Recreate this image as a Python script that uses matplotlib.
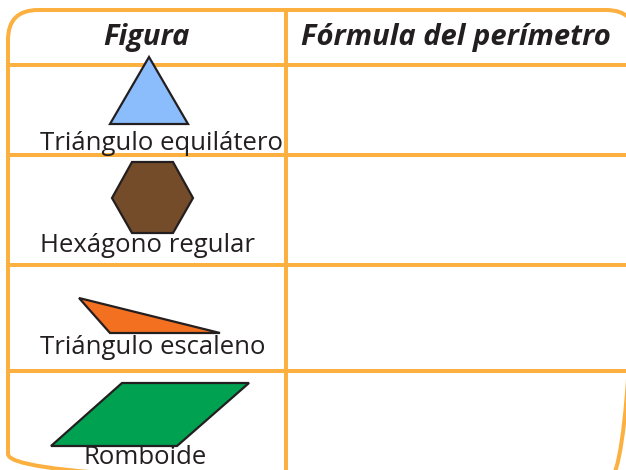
import matplotlib
matplotlib.use("Agg")
import matplotlib.pyplot as plt
from matplotlib.patches import FancyBboxPatch, Polygon

# Données du tableau
encabezados = ["Figura", "Fórmula del perímetro"]
nombres = ["Triángulo equilátero", "Hexágono regular", "Triángulo escaleno", "Romboide"]
colores = ["#8BBDFC", "#754C29", "#F37021", "#00A151"]

# Sommets de chaque figure (en pixels de l'image)
triangulo_eq = [(149, 57), (110, 124), (188, 124)]
hexagono = [(112, 198), (132, 162), (173, 162), (193, 198), (173, 233), (132, 233)]
triangulo_esc = [(79, 298), (110, 333), (220, 333)]
romboide = [(122, 383), (249, 383), (177, 446), (51, 446)]
figuras = [triangulo_eq, hexagono, triangulo_esc, romboide]

# Position des étiquettes
x_etiquetas = [40, 40, 40, 83]
y_etiquetas = [143, 246, 348, 458]

# Grille du tableau
lineas_h = [65, 155, 265, 371]
linea_v = 286
naranja = "#FBB040"
texto = "#231F20"

fig = plt.figure(figsize=(6.26, 4.70), dpi=100)
ax = fig.add_axes([0, 0, 1, 1])
ax.set_xlim(0, 626)
ax.set_ylim(470, 0)
ax.axis("off")

lw = 4 * 72 / 100

# Cadre arrondi (dépasse à droite et en bas)
cadre = FancyBboxPatch((8, 10), 628, 474,
                       boxstyle="round,pad=0,rounding_size=30",
                       fill=False, edgecolor=naranja, linewidth=lw)
ax.add_patch(cadre)

for y in lineas_h:
    ax.plot([8, 636], [y, y], color=naranja, linewidth=lw, solid_capstyle="butt")
ax.plot([linea_v, linea_v], [10, 484], color=naranja, linewidth=lw, solid_capstyle="butt")

# En-têtes
ax.text(146, 38, encabezados[0], ha="center", va="center", fontsize=21,
        fontweight="bold", fontstyle="italic", color=texto, family="Open Sans")
ax.text(456, 38, encabezados[1], ha="center", va="center", fontsize=21,
        fontweight="bold", fontstyle="italic", color=texto, family="Open Sans")

# Figures et noms
for sommets, couleur, nom, x, y in zip(figuras, colores, nombres, x_etiquetas, y_etiquetas):
    ax.add_patch(Polygon(sommets, closed=True, facecolor=couleur, zorder=3,
                         edgecolor="#231F20", linewidth=1.6, joinstyle="miter"))
    ax.text(x, y, nom, ha="left", va="center", fontsize=18.5,
            color=texto, family="Open Sans", zorder=4)

fig.savefig("out.png", dpi=100)
